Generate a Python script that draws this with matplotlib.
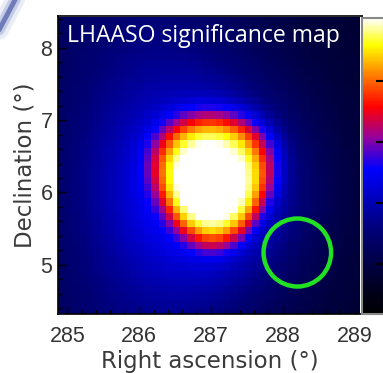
import numpy as np
import matplotlib
matplotlib.use("Agg")
import matplotlib.pyplot as plt
from matplotlib.colors import LinearSegmentedColormap, Normalize
from matplotlib.patches import Circle
from matplotlib.lines import Line2D

# Compact source (significance in sigma, positions/sizes in degrees)
src_ra = 287.05
src_dec = 6.18
src_radius = 0.80        # profile scale radius
src_index = 4.5          # profile sharpness
src_taper = 0.24         # east-west width change per degree of declination
src_dec_scale = 1.12     # north-south stretch
src_amp = 10.4

# Extended components: RA, Dec, width in RA, width in Dec, amplitude
ext_ra = [287.05, 286.00]
ext_dec = [6.05, 6.20]
ext_sig_ra = [0.90, 1.25]
ext_sig_dec = [0.95, 4.00]
ext_amp = [6.0, 3.4]
baseline = -0.9

# Map extent and bin size (degrees)
ra_range = [284.87, 289.10]
dec_range = [4.32, 8.44]
bin_size = 0.1

# Region marked by the circle
circle_ra = 288.2
circle_dec = 5.17
circle_radius = 0.47

x_ticks = [285, 286, 287, 288, 289]
y_ticks = [5, 6, 7, 8]
cbar_ticks = [0, 4, 8, 12]
vmin, vmax = -3.3, 16.1

ra_edges = np.arange(ra_range[0], ra_range[1] + bin_size / 2, bin_size)
dec_edges = np.arange(dec_range[0], dec_range[1] + bin_size / 2, bin_size)
ra_c = 0.5 * (ra_edges[:-1] + ra_edges[1:])
dec_c = 0.5 * (dec_edges[:-1] + dec_edges[1:])
RA, DEC = np.meshgrid(ra_c, dec_c)

sig = np.full(RA.shape, baseline)
for r0, d0, sr, sd, a0 in zip(ext_ra, ext_dec, ext_sig_ra, ext_sig_dec, ext_amp):
    sig += a0 * np.exp(-0.5 * (((RA - r0) / sr) ** 2 + ((DEC - d0) / sd) ** 2))
sx = 1 + src_taper * (DEC - src_dec)
rr = np.sqrt(((RA - src_ra) / sx) ** 2 + ((DEC - src_dec) / src_dec_scale) ** 2)
sig += src_amp * np.exp(-(rr / src_radius) ** src_index)

cmap = LinearSegmentedColormap.from_list("sig", [
    (0.00, (0.0, 0.0, 0.0)),
    (0.10, (0.0, 0.0, 0.15)),
    (0.28, (0.0, 0.0, 0.46)),
    (0.49, (0.0, 0.0, 1.00)),
    (0.60, (0.60, 0.0, 0.60)),
    (0.70, (1.0, 0.0, 0.0)),
    (0.81, (1.0, 0.50, 0.0)),
    (0.91, (1.0, 1.0, 0.0)),
    (1.00, (1.0, 1.0, 1.0)),
])

fig = plt.figure(figsize=(3.83, 3.73), dpi=100)

# soft blue stroke in the top-left corner
for lw, col, al in [(14, "#c4cce8", 0.35), (8, "#7d8cc8", 0.35), (3.5, "#2a3b96", 0.55)]:
    fig.add_artist(Line2D([-2 / 383, 16 / 383], [1 - 32 / 373, 1 + 2 / 373],
                          transform=fig.transFigure, color=col, alpha=al,
                          linewidth=lw, solid_capstyle="round"))

ax = fig.add_axes([58 / 383, 1 - 314 / 373, 304 / 383, 298 / 373])
norm = Normalize(vmin=vmin, vmax=vmax)
ax.pcolormesh(ra_edges, dec_edges, sig, cmap=cmap, norm=norm, shading="flat")
ax.set_xlim(ra_range[0], ra_range[1])
ax.set_ylim(dec_range[0], dec_range[1])

ax.add_patch(Circle((circle_ra, circle_dec), circle_radius, fill=False,
                    edgecolor="#22e022", linewidth=3.2))

ax.text(0.03, 0.933, "LHAASO significance map", transform=ax.transAxes,
        color="white", fontsize=16.6, family="Open Sans", va="center", ha="left")

tick_font = dict(family="Liberation Sans", size=15.5, color="#333333")
ax.set_xticks(x_ticks)
ax.set_yticks(y_ticks)
ax.set_xticklabels([str(t) for t in x_ticks], **tick_font)
ax.set_yticklabels([str(t) for t in y_ticks], **tick_font)
ax.set_xticks(np.arange(285, 289.1, 0.2), minor=True)
ax.set_yticks(np.arange(4.4, 8.41, 0.2), minor=True)
ax.tick_params(which="both", direction="in", color="black", top=False, right=False)
ax.tick_params(which="major", length=6, width=1)
ax.tick_params(axis="x", which="major", pad=9)
ax.tick_params(axis="y", which="major", pad=4)
ax.tick_params(which="minor", length=3, width=1)
label_font = dict(family="DejaVu Sans", size=16.5, color="#3a3a3a")
ax.set_xlabel("Right ascension (°)", labelpad=1.5, **label_font)
ax.set_ylabel("Declination (°)", labelpad=3, **label_font)
for s in ax.spines.values():
    s.set_color("black")
    s.set_linewidth(1.2)
ax.spines["right"].set_color("#777777")

cax = fig.add_axes([361.5 / 383, 1 - 314 / 373, 22 / 383, 296 / 373])
cb = fig.colorbar(plt.cm.ScalarMappable(norm=norm, cmap=cmap), cax=cax)
cb.set_ticks(cbar_ticks)
cb.ax.yaxis.set_ticks_position("right")
cb.ax.tick_params(direction="in", length=6, width=1.5, color="black", labelright=False)
cb.outline.set_edgecolor("#888888")
cb.outline.set_linewidth(1.5)

fig.savefig("out.png", dpi=100)
